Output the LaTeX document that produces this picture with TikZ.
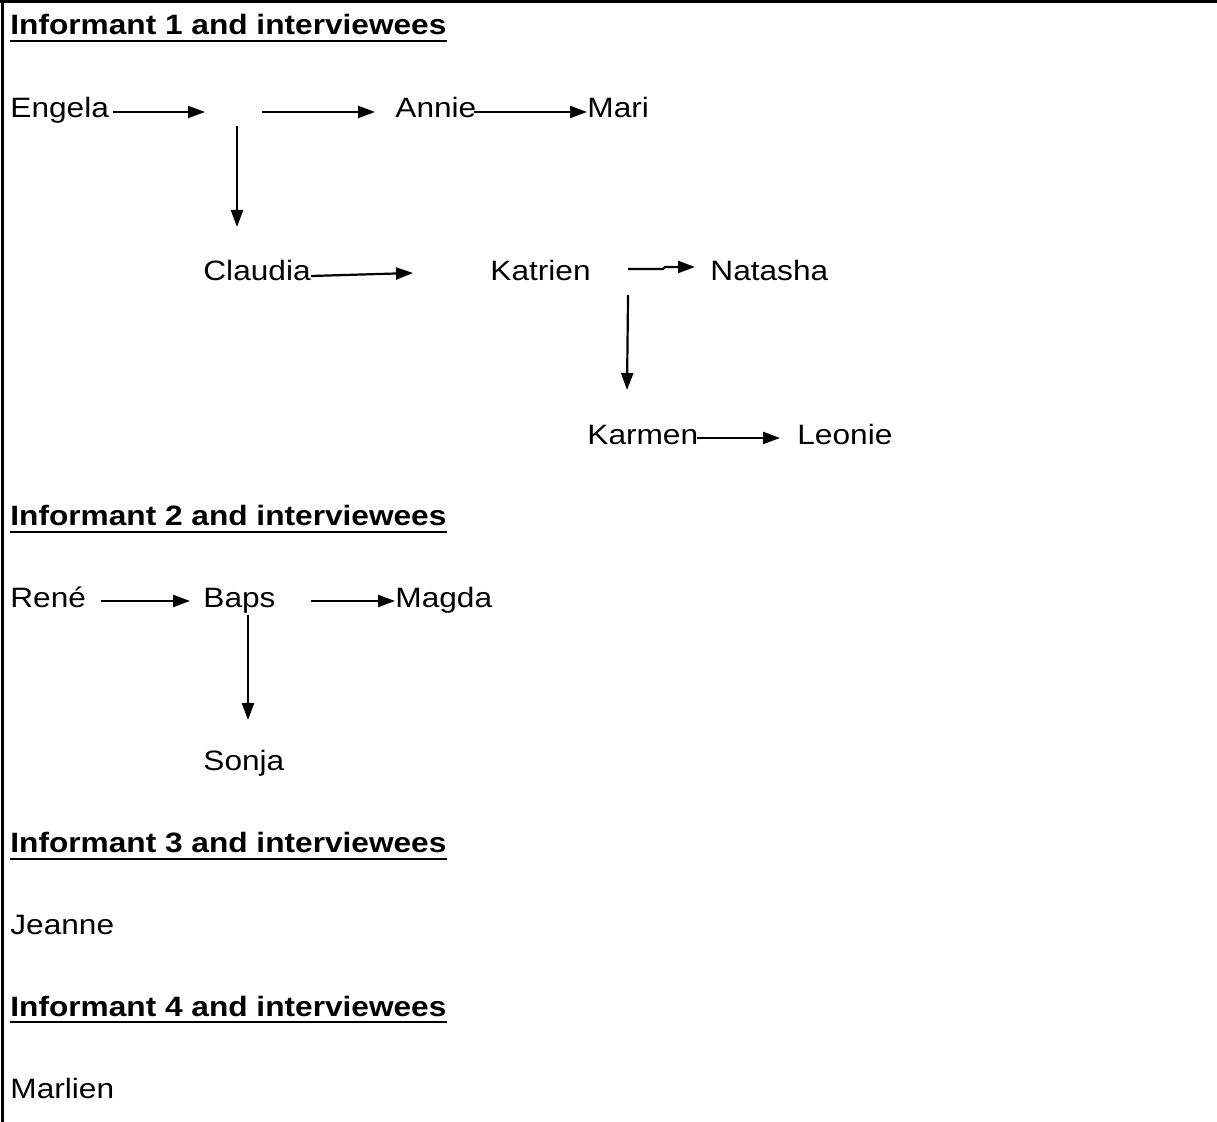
\documentclass[tikz,border=0pt]{standalone}
\usepackage{fontspec}
\setmainfont[FakeStretch=1.13]{Liberation Sans}
\usetikzlibrary{calc, arrows.meta}

\begin{document}
\begin{tikzpicture}[x=.5pt, y=-.5pt, every node/.style={font=\fontsize{14}{16}\selectfont}]
\tikzstyle{person} = [anchor=base west, inner sep=0pt]
\tikzstyle{heading} = [person, font=\fontsize{14}{16}\selectfont\bfseries]
\tikzstyle{arr} = [-{Triangle[length=8.5pt, width=6pt]}, line width=1.1pt]
\tikzstyle{uline} = [line width=1.3pt]

\useasboundingbox (0,0) rectangle (1217,1122);
\draw[line width=1.5pt] (0,2) -- (1217,2);
\draw[line width=1.5pt] (2,0) -- (2,1122);

\node (hone) [heading] at (10,35) {Informant 1 and interviewees};
\node (htwo) [heading] at (10,526) {Informant 2 and interviewees};
\node (hthree) [heading] at (10,853) {Informant 3 and interviewees};
\node (hfour) [heading] at (10,1016) {Informant 4 and interviewees};

\node (engela) [person] at (10,118) {Engela};
\node (annie) [person] at (395,118) {Annie};
\node (mari) [person] at (587,118) {Mari};
\node (claudia) [person] at (203,281) {Claudia};
\node (katrien) [person] at (490,281) {Katrien};
\node (natasha) [person] at (710,281) {Natasha};
\node (karmen) [person] at (587,445) {Karmen};
\node (leonie) [person] at (797,445) {Leonie};
\node (rene) [person] at (10,608) {René};
\node (baps) [person] at (203,608) {Baps};
\node (magda) [person] at (395,608) {Magda};
\node (sonja) [person] at (203,771) {Sonja};
\node (jeanne) [person] at (10,935) {Jeanne};
\node (marlien) [person] at (10,1098) {Marlien};

\coordinate (gapa) at (205,112);
\coordinate (gapb) at (262,112);
\coordinate (gapc) at (237,126);

\foreach \h in {hone, htwo, hthree, hfour}
  \draw[uline] ($(\h.base west)+(0,6)$) -- ($(\h.base east)+(0,6)$);

\draw[arr] ($(engela.base east)+(4,-6)$) -- (gapa);
\draw[arr] (gapb) -- ($(annie.base west)+(-20,-6)$);
\draw[arr] ($(annie.base east)+(-3,-6)$) -- ($(mari.base west)+(0,-6)$);
\draw[arr] (gapc) -- ($(claudia.base west)+(34,-54)$);

\draw[arr] ($(claudia.base east)+(0,-5)$) -- ($(katrien.base west)+(-77,-8)$);
\draw[arr] ($(katrien.base east)+(37,-12)$) -- +(35,0) -- +(37,-2) -- ($(natasha.base west)+(-15,-14)$);
\draw[arr] ($(katrien.base east)+(37,14)$) -- ($(karmen.base west)+(40,-55)$);
\draw[arr] ($(karmen.base east)+(-2,-7)$) -- ($(leonie.base west)+(-17,-7)$);

\draw[arr] ($(rene.base east)+(15,-7)$) -- ($(baps.base west)+(-13,-7)$);
\draw[arr] ($(baps.base east)+(35,-7)$) -- ($(magda.base west)+(0,-7)$);
\draw[arr] ($(baps.base west)+(45,7)$) -- ($(sonja.base west)+(45,-51)$);

\end{tikzpicture}
\end{document}
